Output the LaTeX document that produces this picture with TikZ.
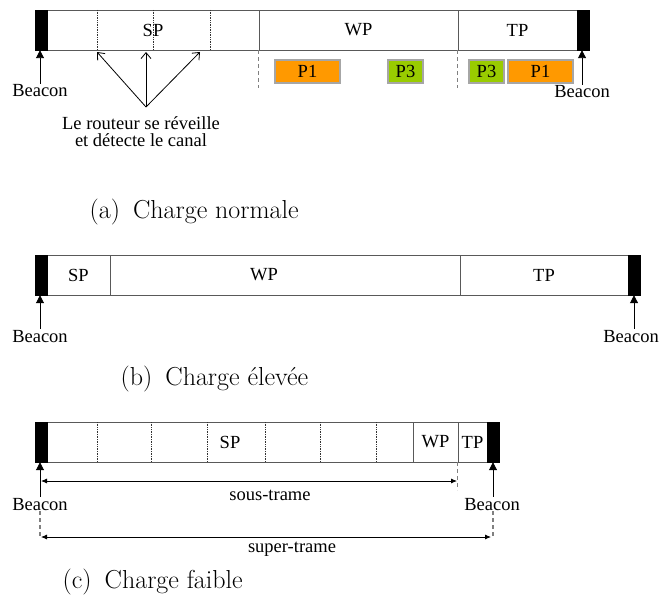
\documentclass[tikz,border=0pt]{standalone}
\usepackage{fontspec}
\newfontfamily\tnr{Liberation Serif}
\usetikzlibrary{arrows.meta, positioning, calc}
\definecolor{porange}{HTML}{FF9900}
\definecolor{pgreen}{HTML}{99CC00}
\tikzset{
  beacon/.style={rectangle, fill=black, draw=black, minimum width=12pt, minimum height=40pt, inner sep=0pt},
  period/.style={rectangle, draw=black!65, line width=0.9pt, minimum height=40pt, inner sep=0pt, font=\tnr\fontsize{18.5}{17}\selectfont},
  slot/.style={rectangle, draw=black!35, line width=1.3pt, minimum height=23pt, inner sep=0pt, font=\tnr\fontsize{18.5}{17}\selectfont},
  lbl/.style={inner sep=1pt, font=\tnr\fontsize{18.5}{17}\selectfont},
  capt/.style={anchor=base west, inner sep=0pt, font=\fontsize{26}{30}\selectfont},
  divider/.style={densely dotted, black!80, line width=0.7pt},
  dashline/.style={dash pattern=on 4pt off 3pt, black!50, line width=1.1pt},
  uparrow/.style={-{Triangle[length=8pt,width=8pt]}, line width=0.9pt},
  wakearrow/.style={-{Straight Barb[length=6pt,width=10pt]}, line width=0.8pt},
  spanarrow/.style={{Latex[length=6pt,width=5pt]}-{Latex[length=6pt,width=5pt]}, line width=0.8pt}
}
\begin{document}
\begin{tikzpicture}[x=1pt, y=-1pt]
  \useasboundingbox (0,0) rectangle (660,604);

  % (a) charge normale
  \node (spA) [period, minimum width=212pt] at (153,30) {SP};
  \node (wpA) [period, minimum width=199pt] at (358.5,30) {WP};
  \node (tpA) [period, minimum width=119pt] at (517.5,30) {TP};
  \node (bA1) [beacon] at (41,30) {};
  \node (bA2) [beacon] at (583,30) {};
  \foreach \x in {97,153,210} \draw [divider] (\x,10) -- (\x,50);
  \draw [dashline] (wpA.south west) -- ++(0,38);
  \draw [dashline] (tpA.south west) -- ++(0,38);

  \node (p1A) [slot, fill=porange, minimum width=65pt] at (307.5,71.5) {P1};
  \node (p3A) [slot, fill=pgreen, minimum width=35pt] at (405.5,71.5) {P3};
  \node (p3B) [slot, fill=pgreen, minimum width=35pt] at (486.5,71.5) {P3};
  \node (p1B) [slot, fill=porange, minimum width=65pt] at (540.5,71.5) {P1};

  \node (lblA1) [lbl, anchor=base] at (40,97) {Beacon};
  \node (lblA2) [lbl, anchor=base] at (582,98) {Beacon};
  \draw [uparrow] (lblA1.north) -- (lblA1.north |- bA1.south);
  \draw [uparrow] (lblA2.north) -- (lblA2.north |- bA2.south);

  \node (router) [lbl, align=center] at (141,132) {Le routeur se réveille\\et détecte le canal};
  \coordinate (wk) at (146,107);
  \coordinate (t1) at (97,52);
  \coordinate (t2) at (146,52);
  \coordinate (t3) at (200,52);
  \foreach \t in {t1,t2,t3} \draw [wakearrow] (wk) -- (\t);

  \node (capA) [capt] at (89.5,218) {(a)\hspace{0.5em}Charge normale};

  % (b) charge elevee
  \node (spB) [period, minimum width=63pt] at (78.5,275) {SP};
  \node (wpB) [period, minimum width=350pt] at (285,275) {};
  \node (wpBlbl) [lbl] at (264,275) {WP};
  \node (tpB) [period, minimum width=168pt] at (544,275) {TP};
  \node (bB1) [beacon] at (41,275) {};
  \node (bB2) [beacon] at (634,275) {};

  \node (lblB1) [lbl, anchor=base] at (40,342) {Beacon};
  \node (lblB2) [lbl, anchor=base] at (631,342) {Beacon};
  \draw [uparrow] (lblB1.north) -- (lblB1.north |- bB1.south);
  \draw [uparrow] (lblB2.north -| bB2.south) -- (bB2.south);

  \node (capB) [capt] at (120.5,385) {(b)\hspace{0.5em}Charge élevée};

  % (c) charge faible
  \node (spC) [period, minimum width=366pt] at (230,442) {SP};
  \node (wpC) [period, minimum width=45pt] at (435.5,442) {WP};
  \node (tpC) [period, minimum width=29pt] at (472.5,442) {TP};
  \node (bC1) [beacon] at (41,442) {};
  \node (bC2) [beacon] at (493,442) {};
  \foreach \x in {97,151,207,265,320,376} \draw [divider] (\x,422) -- (\x,462);

  \node (lblC1) [lbl, anchor=base] at (40,510) {Beacon};
  \node (lblC2) [lbl, anchor=base] at (492,510) {Beacon};
  \draw [uparrow] (lblC1.north) -- (lblC1.north |- bC1.south);
  \draw [uparrow] (lblC2.north -| bC2.south) -- (bC2.south);
  \draw [dashline] (lblC1.south) -- ++(0,26);
  \draw [dashline] (lblC2.south -| bC2.south) -- ++(0,26);
  \draw [dashline] (tpC.south west) -- ++(0,28);

  \coordinate (sousL) at (41,481);
  \coordinate (sousR) at (457,481);
  \coordinate (supL) at (41,537);
  \coordinate (supR) at (491,537);
  \draw [spanarrow] (sousL) -- (sousR);
  \draw [spanarrow] (supL) -- (supR);
  \node (sous) [lbl, anchor=base] at (270,500) {sous-trame};
  \node (super) [lbl, anchor=base] at (292,552) {super-trame};

  \node (capC) [capt] at (62.5,588) {(c)\hspace{0.5em}Charge faible};
\end{tikzpicture}
\end{document}
